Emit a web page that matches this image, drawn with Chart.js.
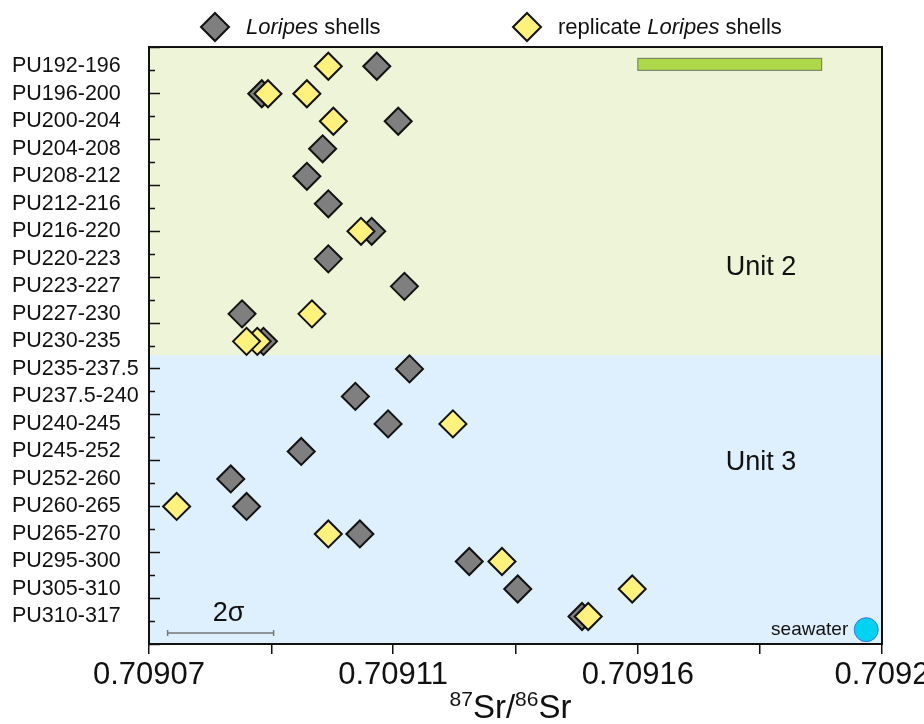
<!DOCTYPE html>
<html>
<head>
<meta charset="utf-8">
<script src="https://cdn.jsdelivr.net/npm/chart.js@4.4.1/dist/chart.umd.min.js"></script>
<style>
  html, body { margin: 0; padding: 0; background: #fff; }
</style>
</head>
<body>
<canvas id="srChart" width="924" height="724"></canvas>
<script>
// sample intervals, top to bottom
var samples = ['PU192-196', 'PU196-200', 'PU200-204', 'PU204-208', 'PU208-212', 'PU212-216',
  'PU216-220', 'PU220-223', 'PU223-227', 'PU227-230', 'PU230-235', 'PU235-237.5',
  'PU237.5-240', 'PU240-245', 'PU245-252', 'PU252-260', 'PU260-265', 'PU265-270',
  'PU295-300', 'PU305-310', 'PU310-317'];

// 87Sr/86Sr of Loripes shells
var loripes = [0.7091104, 0.7090900, 0.7091142, 0.7091008, 0.7090980, 0.7091018,
  0.7091095, 0.7091018, 0.7091153, 0.7090865, 0.7090903, 0.7091162,
  0.7091066, 0.7091124, 0.7090970, 0.7090845, 0.7090873, 0.7091074,
  0.7091268, 0.7091354, 0.7091468];

// replicates (two runs for some samples)
var replicate = [0.7091018, 0.7090911, 0.7091027, null, null, null,
  0.7091076, null, null, 0.7090989, 0.7090873, null,
  null, 0.7091239, null, null, 0.7090749, 0.7091018,
  0.7091326, 0.7091557, 0.7091479];
var replicate2 = [null, 0.7090980, null, null, null, null,
  null, null, null, null, 0.7090892, null,
  null, null, null, null, null, null,
  null, null, null];

var seawater = [0.7091972];
var seawaterRow = [20.48];
var greenBar = [0.7091567, 0.7091893];
var twoSigma = [0.7090733, 0.7090921];
var unitSplit = 10.5;

var xTicks = [0.70907, 0.7090917, 0.7091133, 0.709135, 0.7091567, 0.7091783, 0.7092];
var xTickLabels = ['0.70907', '', '0.70911', '', '0.70916', '', '0.7092'];

var GREY = '#7f7f7f', YELLOW = '#fff27c', FONT = '"Liberation Sans", Arial, sans-serif';

function toPoints(arr) {
  var pts = [];
  for (var i = 0; i < arr.length; i++) {
    if (arr[i] !== null) pts.push({ x: arr[i], y: i });
  }
  return pts;
}

function diamond(ctx, x, y, r, fill) {
  ctx.beginPath();
  ctx.moveTo(x, y - r); ctx.lineTo(x + r, y); ctx.lineTo(x, y + r); ctx.lineTo(x - r, y);
  ctx.closePath();
  ctx.fillStyle = fill; ctx.fill();
  ctx.lineWidth = 2; ctx.strokeStyle = '#111'; ctx.stroke();
}

var decor = {
  id: 'decor',
  beforeDatasetsDraw: function (chart) {
    var ctx = chart.ctx, a = chart.chartArea, xs = chart.scales.x, ys = chart.scales.y, y2 = chart.scales.y2;
    ctx.save();
    var yb = ys.getPixelForValue(unitSplit);
    ctx.fillStyle = '#eef4d7';
    ctx.fillRect(a.left, a.top, a.right - a.left, yb - a.top);
    ctx.fillStyle = '#deeffd';
    ctx.fillRect(a.left, yb, a.right - a.left, a.bottom - yb);

    // inward ticks on left axis
    ctx.strokeStyle = '#111'; ctx.lineWidth = 1.5;
    for (var k = 0; k <= 26; k++) {
      var py = Math.round(y2.getPixelForValue(k)) + 0.5;
      var len = (k % 2 === 0) ? 11 : 6;
      ctx.beginPath(); ctx.moveTo(a.left, py); ctx.lineTo(a.left + len, py); ctx.stroke();
    }

    // green range bar
    var gx0 = xs.getPixelForValue(greenBar[0]), gx1 = xs.getPixelForValue(greenBar[1]);
    var gy = ys.getPixelForValue(-0.07);
    ctx.fillStyle = '#acd84a';
    ctx.fillRect(gx0, gy - 6, gx1 - gx0, 12);
    ctx.strokeStyle = '#6f7560'; ctx.lineWidth = 1;
    ctx.strokeRect(gx0, gy - 6, gx1 - gx0, 12);

    // 2 sigma bar
    var sx0 = xs.getPixelForValue(twoSigma[0]), sx1 = xs.getPixelForValue(twoSigma[1]);
    var sy = ys.getPixelForValue(20.6);
    ctx.strokeStyle = '#777'; ctx.lineWidth = 1.5;
    ctx.beginPath();
    ctx.moveTo(sx0, sy); ctx.lineTo(sx1, sy);
    ctx.moveTo(sx0, sy - 3); ctx.lineTo(sx0, sy + 3);
    ctx.moveTo(sx1, sy - 3); ctx.lineTo(sx1, sy + 3);
    ctx.stroke();
    ctx.fillStyle = '#111'; ctx.textAlign = 'center'; ctx.textBaseline = 'alphabetic';
    ctx.font = '27px ' + FONT;
    ctx.fillText('2\u03c3', (sx0 + sx1) / 2 + 8, sy - 12);

    // unit labels
    ctx.font = '27px ' + FONT;
    ctx.textBaseline = 'middle';
    ctx.fillText('Unit 2', 761, ys.getPixelForValue(7.3));
    ctx.fillText('Unit 3', 761, ys.getPixelForValue(14.4));
    ctx.restore();
  },
  afterDatasetsDraw: function (chart) {
    var ctx = chart.ctx, a = chart.chartArea, xs = chart.scales.x, ys = chart.scales.y;
    ctx.save();
    ctx.font = '19px ' + FONT; ctx.fillStyle = '#111';
    ctx.textAlign = 'right'; ctx.textBaseline = 'middle';
    ctx.fillText('seawater', xs.getPixelForValue(seawater[0]) - 18, ys.getPixelForValue(seawaterRow[0]));
    ctx.strokeStyle = '#111'; ctx.lineWidth = 2;
    ctx.strokeRect(a.left, a.top, a.right - a.left, a.bottom - a.top);
    ctx.restore();
  },
  afterDraw: function (chart) {
    var ctx = chart.ctx, a = chart.chartArea;
    ctx.save();
    // legend
    ctx.textBaseline = 'middle'; ctx.textAlign = 'left'; ctx.fillStyle = '#111';
    diamond(ctx, 215, 27, 14, GREY);
    ctx.fillStyle = '#111';
    ctx.font = 'italic 22px ' + FONT;
    ctx.fillText('Loripes', 246, 28);
    var w = ctx.measureText('Loripes').width;
    ctx.font = '22px ' + FONT;
    ctx.fillText(' shells', 246 + w, 28);

    diamond(ctx, 527, 27, 14, YELLOW);
    ctx.fillStyle = '#111';
    ctx.font = '22px ' + FONT;
    ctx.fillText('replicate ', 558, 28);
    var w1 = ctx.measureText('replicate ').width;
    ctx.font = 'italic 22px ' + FONT;
    ctx.fillText('Loripes', 558 + w1, 28);
    var w2 = ctx.measureText('Loripes').width;
    ctx.font = '22px ' + FONT;
    ctx.fillText(' shells', 558 + w1 + w2, 28);

    // x axis title 87Sr/86Sr
    var parts = [['87', 21, -12], ['Sr/', 33, 0], ['86', 21, -12], ['Sr', 33, 0]];
    var total = 0, i;
    for (i = 0; i < parts.length; i++) { ctx.font = parts[i][1] + 'px ' + FONT; total += ctx.measureText(parts[i][0]).width; }
    var cx = (a.left + a.right) / 2 - 5 - total / 2, base = 718;
    ctx.textBaseline = 'alphabetic';
    for (i = 0; i < parts.length; i++) {
      ctx.font = parts[i][1] + 'px ' + FONT;
      ctx.fillText(parts[i][0], cx, base + parts[i][2]);
      cx += ctx.measureText(parts[i][0]).width;
    }
    ctx.restore();
  }
};

var ctx = document.getElementById('srChart');
var srChart = new Chart(ctx, {
  type: 'scatter',
  data: {
    datasets: [{
      label: 'replicate Loripes shells',
      data: toPoints(replicate),
      backgroundColor: YELLOW, borderColor: '#111', borderWidth: 2,
      pointStyle: 'rectRot', pointRadius: 13.5
    }, {
      label: 'replicate Loripes shells 2',
      data: toPoints(replicate2),
      backgroundColor: YELLOW, borderColor: '#111', borderWidth: 2,
      pointStyle: 'rectRot', pointRadius: 13.5
    }, {
      label: 'Loripes shells',
      data: toPoints(loripes),
      backgroundColor: GREY, borderColor: '#111', borderWidth: 2,
      pointStyle: 'rectRot', pointRadius: 13.5
    }, {
      label: 'seawater',
      data: [{ x: seawater[0], y: seawaterRow[0] }],
      backgroundColor: '#00d2f2', borderColor: '#4a6ee6', borderWidth: 1,
      pointStyle: 'circle', pointRadius: 12
    }]
  },
  options: {
    responsive: false,
    animation: false,
    events: [],
    layout: { padding: { top: 47, left: 12, right: 42, bottom: 0 } },
    plugins: { legend: { display: false }, tooltip: { enabled: false } },
    scales: {
      x: {
        type: 'linear', min: 0.70907, max: 0.7092,
        afterBuildTicks: function (scale) {
          scale.ticks = xTicks.map(function (v) { return { value: v }; });
        },
        afterFit: function (scale) { scale.height = 80; scale.paddingLeft = 0; scale.paddingRight = 0; },
        ticks: {
          autoSkip: false, maxRotation: 0, padding: 3, color: '#111',
          font: { family: FONT, size: 31 },
          callback: function (v, i) { return xTickLabels[i]; }
        },
        grid: { drawOnChartArea: false, tickLength: 10, color: '#111', lineWidth: 1.5 },
        border: { display: false }
      },
      y: {
        type: 'linear', min: -0.7, max: 21, reverse: true,
        afterBuildTicks: function (scale) {
          scale.ticks = samples.map(function (s, i) { return { value: i }; });
        },
        afterFit: function (scale) { scale.width = 137; },
        ticks: {
          autoSkip: false, crossAlign: 'far', color: '#111',
          font: { family: FONT, size: 21.5 },
          callback: function (v) { return samples[v]; }
        },
        grid: { display: false },
        border: { display: false }
      },
      y2: { type: 'linear', display: false, min: 0, max: 26, reverse: true }
    }
  },
  plugins: [decor]
});
</script>
</body>
</html>
